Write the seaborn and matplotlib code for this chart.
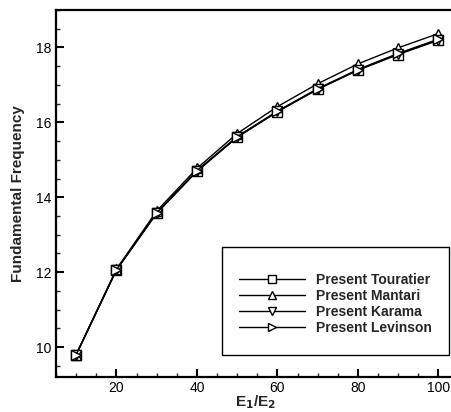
import matplotlib
matplotlib.use("Agg")
import matplotlib.pyplot as plt
from matplotlib.ticker import MultipleLocator
from matplotlib.lines import Line2D
from matplotlib.patches import Rectangle
import seaborn as sns
import pandas as pd

ratio = [10, 20, 30, 40, 50, 60, 70, 80, 90, 100]
touratier = [9.79, 12.05, 13.57, 14.69, 15.60, 16.28, 16.88, 17.39, 17.81, 18.19]
mantari = [9.80, 12.08, 13.63, 14.77, 15.70, 16.42, 17.03, 17.56, 17.99, 18.37]
karama = [9.79, 12.06, 13.58, 14.70, 15.61, 16.29, 16.89, 17.40, 17.83, 18.21]
levinson = [9.79, 12.06, 13.58, 14.71, 15.62, 16.30, 16.90, 17.41, 17.84, 18.22]
series_names = ["Present Touratier", "Present Mantari", "Present Karama", "Present Levinson"]

sns.set_theme(style="white")
plt.rcParams['font.family'] = ['Liberation Sans', 'DejaVu Sans']

rows = []
for name, vals in zip(series_names, [touratier, mantari, karama, levinson]):
    for x, y in zip(ratio, vals):
        rows.append({"ratio": x, "freq": y, "series": name})
df = pd.DataFrame(rows)

W, H = 452, 412
fig = plt.figure(figsize=(W/100, H/100), dpi=100)
ax = fig.add_axes([56/W, 35/H, 398.5/W, 367/H])

markers = {series_names[0]: "s", series_names[1]: "^", series_names[2]: "v", series_names[3]: ">"}
sns.lineplot(data=df, x="ratio", y="freq", style="series", markers=markers, dashes=False,
             color="black", linewidth=1.0, markersize=7, markerfacecolor="white",
             markeredgecolor="black", markeredgewidth=1.0, ax=ax, legend=False)

ax.set_xlim(5, 104)
ax.set_ylim(9.2, 19.0)
ax.xaxis.set_major_locator(MultipleLocator(20))
ax.xaxis.set_minor_locator(MultipleLocator(5))
ax.yaxis.set_major_locator(MultipleLocator(2))
ax.yaxis.set_minor_locator(MultipleLocator(0.5))
ax.tick_params(which="major", direction="in", length=6, width=1.5, labelsize=10, colors="black",
               bottom=True, left=True, top=False, right=False, pad=3)
ax.tick_params(which="minor", direction="in", length=3, width=1.0,
               bottom=True, left=True, top=False, right=False)
for side in ["left", "bottom", "top"]:
    ax.spines[side].set_linewidth(1.6)
    ax.spines[side].set_color("black")
ax.spines["right"].set_visible(False)

ax.set_xlabel("E$_\\mathbf{1}$/E$_\\mathbf{2}$", fontsize=11, fontweight="bold", labelpad=-1)
ax.set_ylabel("Fundamental Frequency", fontsize=11, fontweight="bold", labelpad=8)

# legend frame
bx0, bx1, by0, by1 = 222, 449, 247, 355
fig.patches.append(Rectangle((bx0/W, 1 - by1/H), (bx1-bx0)/W, (by1-by0)/H,
                             transform=fig.transFigure, facecolor="white",
                             edgecolor="black", linewidth=1.0, zorder=5))

handles = [Line2D([0], [0], color="black", linewidth=1.0, marker=markers[n], markersize=6,
                  markerfacecolor="white", markeredgecolor="black") for n in series_names]
shift = 3
leg = fig.legend(handles, series_names, loc="center",
                 bbox_to_anchor=(bx0/W, 1 - (by1 + shift)/H, (bx1-bx0)/W, (by1-by0)/H),
                 frameon=False, fontsize=10, handlelength=4.7,
                 labelspacing=0.15, borderpad=0, handletextpad=0.8, borderaxespad=0)
leg.set_zorder(6)
for t in leg.get_texts():
    t.set_fontweight("bold")

fig.savefig("out.png", dpi=100)
